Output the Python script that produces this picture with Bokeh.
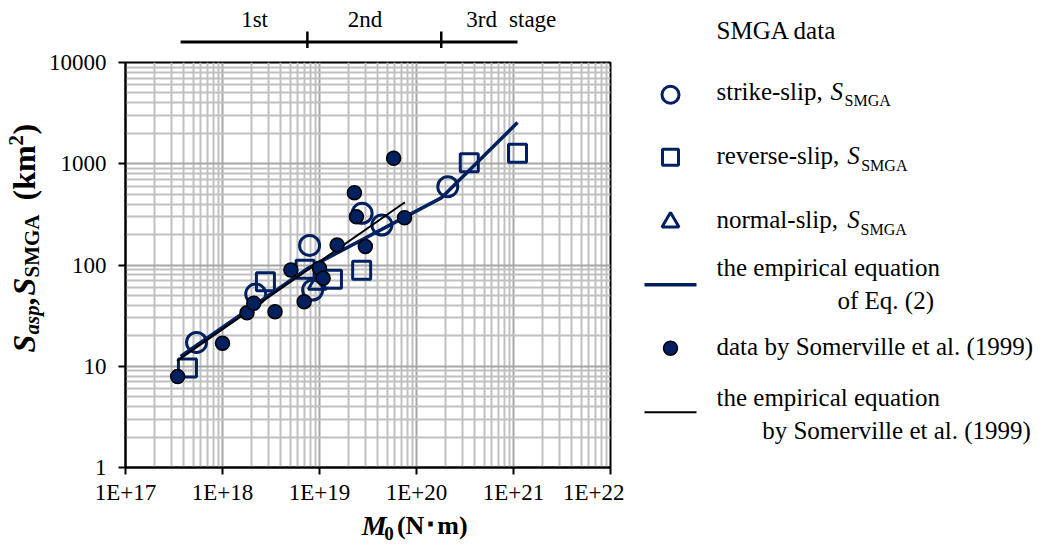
import math
from bokeh.plotting import figure
from bokeh.models import Range1d, FixedTicker
from bokeh.layouts import row, column
from bokeh.core.properties import value
from bokeh.embed import file_html
from bokeh.resources import INLINE

# ---------------- data ----------------
# strike-slip SMGA (open circles)
ss_m0 = [5.4e17, 2.2e18, 7.9e18, 8.5e18, 2.75e19, 4.4e19, 2.1e20]
ss_s = [17.2, 51.7, 156, 56.6, 324, 248, 593]
# reverse-slip SMGA (open squares)
rs_m0 = [4.35e17, 2.77e18, 7.1e18, 1.36e19, 2.72e19, 3.5e20, 1.1e21]
rs_s = [9.6, 68.4, 90.7, 72.2, 88.6, 1023, 1268]
# normal-slip SMGA (open triangles)
ns_m0 = [9.5e18]
ns_s = [65]
# Somerville et al. (1999) data (filled circles)
sm_m0 = [3.45e17, 1.0e18, 1.79e18, 2.1e18, 3.48e18, 5.07e18, 6.95e18, 1.0e19,
         1.09e19, 1.52e19, 2.29e19, 2.4e19, 2.97e19, 5.81e19, 7.52e19]
sm_s = [7.9, 16.9, 33.8, 41.9, 34.6, 89.3, 43.4, 92.7,
        73.9, 158, 518, 300, 152, 1132, 293]
# empirical equation of Eq.(2) (piecewise, stage knots)
eq2_m0 = [3.7e17, 7.5e18, 1.8e20, 1.1e21]
eq2_s = [12.5, 92, 460, 2550]
# empirical equation by Somerville et al. (1999)
som_m0 = [3.4e17, 7.6e19]
som_s = [11.3, 417]
# stage bar
stage_bar = [3.7e17, 1.1e21]
stage_bounds = [7.5e18, 1.8e20]
stage_labels = ["1st", "2nd", "3rd", "stage"]
stage_label_x = [2.14e18, 2.95e19, 3.26e20, 9.0e20]

x_ticks = [1e17, 1e18, 1e19, 1e20, 1e21, 1e22]
x_tick_labels = ["1E+17", "1E+18", "1E+19", "1E+20", "1E+21", "1E+22"]
y_ticks = [1, 10, 100, 1000, 10000]
y_tick_labels = ["1", "10", "100", "1000", "10000"]

NAVY = "#002060"
FONT = "Liberation Serif"

x_minor = [m * 10 ** e for e in range(17, 22) for m in range(2, 10)]
y_minor = [m * 10 ** e for e in range(0, 4) for m in range(2, 10)]

xr = Range1d(1e17, 1e22)

TOTAL_H = 545
YT_W = 45                 # y-title strip
MAIN_L = 77
MAIN_W = MAIN_L + 488 + 14    # main plot column
LEG_W = 416               # legend strip
TOP_H = 48
MAIN_H = 14 + 406 + 39
XT_H = TOTAL_H - TOP_H - MAIN_H


def bare(width, height, x_range, y_range, **kw):
    f = figure(width=width, height=height, x_range=x_range, y_range=y_range,
               x_axis_location=None, y_axis_location=None,
               output_backend="svg", toolbar_location=None,
               outline_line_color=None, **kw)
    f.grid.visible = False
    return f


def ptext(f, x, y, s, size, style="normal", angle=0.0, align="left"):
    f.text(x=[x], y=[y], text=[s], text_font=value(FONT),
           text_font_size=value(size), text_font_style=style,
           text_align=align, text_baseline="middle", text_color="black",
           angle=angle)

# ---------------- main plot ----------------
p = figure(width=MAIN_W, height=MAIN_H, x_axis_type="log", y_axis_type="log",
           x_range=xr, y_range=Range1d(1, 1e4),
           output_backend="svg", toolbar_location=None,
           min_border_left=MAIN_L, min_border_right=14,
           min_border_top=14, min_border_bottom=39)
p.xaxis.ticker = FixedTicker(ticks=x_ticks, minor_ticks=x_minor)
p.yaxis.ticker = FixedTicker(ticks=y_ticks, minor_ticks=y_minor)
p.xaxis.major_label_overrides = dict(zip([float(t) for t in x_ticks], x_tick_labels))
p.yaxis.major_label_overrides = dict(zip([float(t) for t in y_ticks], y_tick_labels))

p.grid.grid_line_color = "#a6a6a6"
p.grid.grid_line_width = 2
p.grid.minor_grid_line_color = "#c0c0c0"
p.grid.minor_grid_line_width = 2

p.axis.axis_line_width = 2
p.axis.axis_line_color = "black"
p.axis.major_tick_line_width = 2
p.axis.major_tick_line_color = "black"
p.axis.major_tick_out = 7
p.axis.major_tick_in = 0
p.axis.minor_tick_out = 0
p.axis.minor_tick_in = 0
p.axis.major_label_text_font = FONT
p.axis.major_label_text_font_size = "23px"
p.axis.major_label_text_color = "black"
p.xaxis.major_label_standoff = 5
p.yaxis.major_label_standoff = 12
p.outline_line_color = "black"
p.outline_line_width = 2

p.scatter(ss_m0, ss_s, marker="circle", size=20, fill_color=None,
          line_color=NAVY, line_width=3)
p.scatter(rs_m0, rs_s, marker="square", size=18, fill_color=None,
          line_color=NAVY, line_width=3)
p.scatter(ns_m0, ns_s, marker="triangle", size=18, fill_color=None,
          line_color=NAVY, line_width=3)
p.line(eq2_m0, eq2_s, line_color=NAVY, line_width=3.5)
p.line(som_m0, som_s, line_color="black", line_width=2)
p.scatter(sm_m0, sm_s, marker="circle", size=14, fill_color=NAVY,
          line_color="black", line_width=1.5)

# ---------------- stage bar (top) ----------------
t = figure(width=MAIN_W, height=TOP_H, x_axis_type="log", x_range=xr,
           y_range=Range1d(TOP_H, 0), x_axis_location=None, y_axis_location=None,
           output_backend="svg", toolbar_location=None,
           min_border_left=MAIN_L, min_border_right=14,
           min_border_top=0, min_border_bottom=0, outline_line_color=None)
t.grid.visible = False
t.segment(x0=[stage_bar[0]], y0=[41.5], x1=[stage_bar[1]], y1=[41.5],
          line_color="black", line_width=3)
t.segment(x0=stage_bounds, y0=[31, 31], x1=stage_bounds, y1=[48, 48],
          line_color="black", line_width=2.5)
t.text(x=stage_label_x[:2], y=[18.5, 18.5], text=stage_labels[:2],
       text_font=value(FONT), text_font_size=value("23px"),
       text_align="center", text_baseline="middle", text_color="black")
t.text(x=stage_label_x[2:], y=[18.5, 18.5], text=stage_labels[2:],
       text_font=value(FONT), text_font_size=value("23px"),
       text_align="left", text_baseline="middle", text_color="black")

# ---------------- x-axis title strip (page coordinates) ----------------
xt = bare(MAIN_W, XT_H, Range1d(YT_W, YT_W + MAIN_W),
          Range1d(TOTAL_H, TOP_H + MAIN_H),
          min_border_left=0, min_border_right=0, min_border_top=0, min_border_bottom=0)
ptext(xt, 327, 524.5, "M", "28px", "bold italic")
ptext(xt, 354, 532.5, "0", "19px", "bold")
ptext(xt, 369, 525, "(N\uff65m)", "26px", "bold")

# ---------------- y-axis title strip (page coordinates) ----------------
yt = bare(YT_W, TOTAL_H, Range1d(0, YT_W), Range1d(TOTAL_H, 0),
          min_border_left=0, min_border_right=0, min_border_top=0, min_border_bottom=0)
A = math.pi / 2
ptext(yt, 23.6, 352, "S", "32px", "bold italic", A)
ptext(yt, 31.4, 334, "asp", "21px", "bold italic", A)
ptext(yt, 23.6, 305, ",", "32px", "bold", A)
ptext(yt, 23.6, 295, "S", "32px", "bold italic", A)
ptext(yt, 31.4, 277, "SMGA", "21px", "bold", A)
ptext(yt, 23.6, 200, "(km", "32px", "bold", A)
ptext(yt, 15.4, 145, "2", "21px", "bold", A)
ptext(yt, 23.6, 134, ")", "32px", "bold", A)

# ---------------- legend (right, page coordinates minus x offset) ----------------
L = bare(LEG_W, TOTAL_H, Range1d(0, LEG_W), Range1d(TOTAL_H, 0),
         min_border_left=0, min_border_right=0, min_border_top=0, min_border_bottom=0)
L.scatter([46], [94.3], marker="circle", size=17, fill_color=None, line_color=NAVY, line_width=3)
L.scatter([46], [156.7], marker="square", size=16, fill_color=None, line_color=NAVY, line_width=3)
L.scatter([46], [221.7], marker="triangle", size=17, fill_color=None, line_color=NAVY, line_width=3)
L.line([20, 72], [284.3, 284.3], line_color=NAVY, line_width=3.5)
L.scatter([46], [347.7], marker="circle", size=14, fill_color=NAVY, line_color="black", line_width=1.5)
L.line([20, 72], [411.7, 411.7], line_color="black", line_width=2)

ptext(L, 92, 29.8, "SMGA data", "25px")
ptext(L, 92, 90.8, "strike-slip,", "25px")
ptext(L, 206, 90.8, "S", "25px", "italic")
ptext(L, 220, 99.6, "SMGA", "16px")
ptext(L, 92, 154.8, "reverse-slip,", "25px")
ptext(L, 222.7, 154.8, "S", "25px", "italic")
ptext(L, 236.7, 164.6, "SMGA", "16px")
ptext(L, 92, 218.8, "normal-slip,", "25px")
ptext(L, 222.7, 218.8, "S", "25px", "italic")
ptext(L, 236, 228.6, "SMGA", "16px")
ptext(L, 92, 266.5, "the empirical equation", "25px")
ptext(L, 213, 299.8, "of Eq. (2)", "25px")
ptext(L, 92, 345.5, "data by Somerville et al. (1999)", "25px")
ptext(L, 92, 396.5, "the empirical equation", "25px")
ptext(L, 137.7, 429.8, "by Somerville et al. (1999)", "25px")

layout = row(yt, column(t, p, xt), L)
open("out.html", "w").write(file_html(layout, INLINE))
